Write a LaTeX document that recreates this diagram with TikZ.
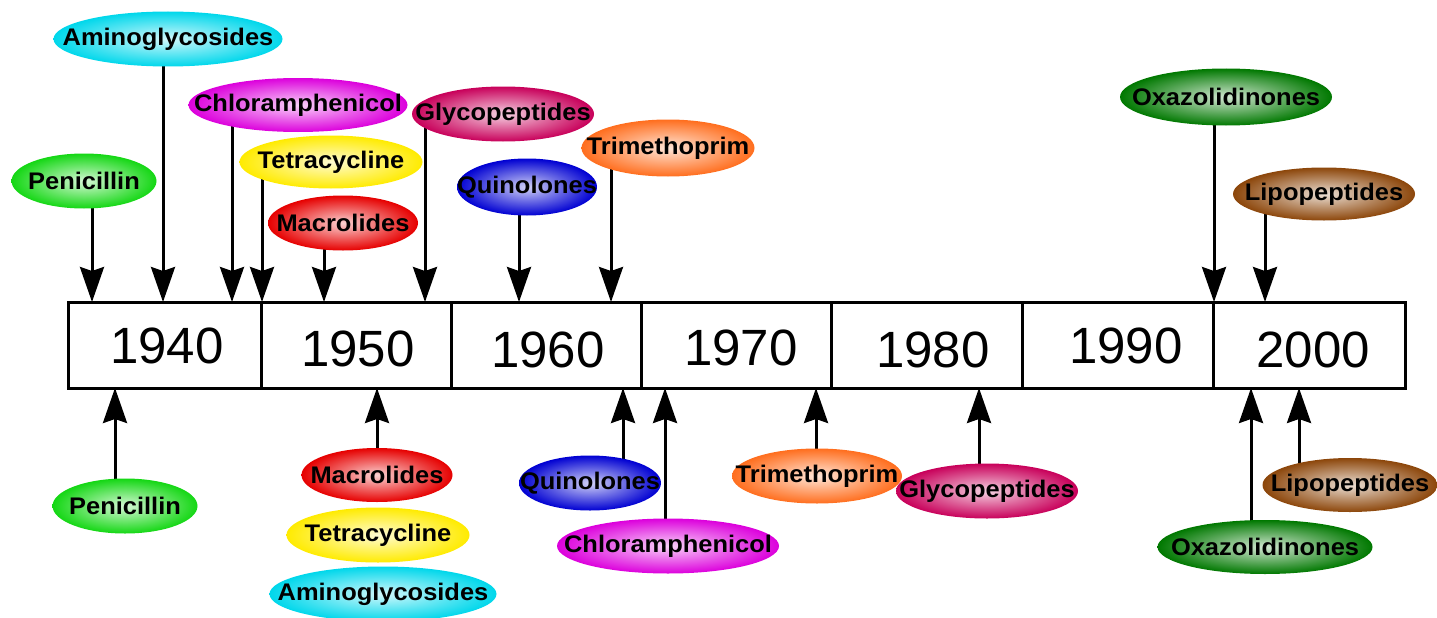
\documentclass[tikz,border=0pt]{standalone}
\usepackage{fontspec}
\usetikzlibrary{shapes.geometric,arrows.meta,backgrounds}
\newfontfamily\labfont[FakeStretch=1.06]{Liberation Sans}
\newfontfamily\yearfont{Liberation Sans}
\definecolor{cCyan}{RGB}{0,215,235}
\definecolor{cMag}{RGB}{220,0,220}
\definecolor{cGreen}{RGB}{20,215,20}
\definecolor{cYel}{RGB}{255,235,0}
\definecolor{cRed}{RGB}{230,0,0}
\definecolor{cPink}{RGB}{200,0,90}
\definecolor{cBlue}{RGB}{0,0,210}
\definecolor{cOra}{RGB}{255,110,30}
\definecolor{cDGreen}{RGB}{0,120,0}
\definecolor{cBrown}{RGB}{140,70,10}
\newcommand\lbl[1]{\makebox[0pt]{#1}}
\tikzset{
  ell/.style={ellipse, inner sep=0pt, outer sep=0pt, shading=radial,
    inner color=#1!18!white, outer color=#1,
    font=\labfont\bfseries\fontsize{24}{27}\selectfont, text=black},
  cell/.style={rectangle, draw=black, line width=3pt, fill=white, minimum height=86pt, inner sep=0pt},
  yr/.style={font=\yearfont\fontsize{51}{56}\selectfont, inner sep=0pt},
  arr/.style={line width=3pt, -{Stealth[length=35pt,width=24pt,inset=4pt]}}
}
\begin{document}
\begin{tikzpicture}[x=1pt,y=-1pt]
\useasboundingbox (0,0) rectangle (1437,618);
% timeline cells
\node[cell, minimum width=193pt] (c1) at (164.5,345) {};
\node[cell, minimum width=190pt] (c2) at (356,345) {};
\node[cell, minimum width=190pt] (c3) at (546,345) {};
\node[cell, minimum width=190pt] (c4) at (736,345) {};
\node[cell, minimum width=191pt] (c5) at (926.5,345) {};
\node[cell, minimum width=191pt] (c6) at (1117.5,345) {};
\node[cell, minimum width=192pt] (c7) at (1309,345) {};
\node[yr] (y1) at (167,346) {1940};
\node[yr] (y2) at (358,349) {1950};
\node[yr] (y3) at (548,350) {1960};
\node[yr] (y4) at (741,348) {1970};
\node[yr] (y5) at (933,350) {1980};
\node[yr] (y6) at (1126,346) {1990};
\node[yr] (y7) at (1313,350) {2000};
% top ellipses
\node[ell=cCyan, minimum width=229pt, minimum height=55pt] (amT) at (168,39) {\lbl{Aminoglycosides}};
\node[ell=cMag, minimum width=219pt, minimum height=54pt] (chT) at (298,105) {\lbl{Chloramphenicol}};
\node[ell=cGreen, minimum width=145pt, minimum height=55pt] (peT) at (84,181) {\lbl{Penicillin}};
\node[ell=cYel, minimum width=183pt, minimum height=53pt] (teT) at (331,162) {\lbl{Tetracycline}};
\node[ell=cRed, minimum width=150pt, minimum height=55pt] (maT) at (343,223) {\lbl{Macrolides}};
\node[ell=cPink, minimum width=182pt, minimum height=55pt] (glT) at (503,114) {\lbl{Glycopeptides}};
\node[ell=cBlue, minimum width=140pt, minimum height=57pt] (quT) at (527,187) {\lbl{Quinolones}};
\node[ell=cOra, minimum width=173pt, minimum height=57pt] (trT) at (668,148) {\lbl{Trimethoprim}};
\node[ell=cDGreen, minimum width=212pt, minimum height=57pt] (oxT) at (1226,97) {\lbl{Oxazolidinones}};
\node[ell=cBrown, minimum width=182pt, minimum height=53pt] (liT) at (1324,194) {\lbl{Lipopeptides}};
% bottom ellipses
\node[ell=cGreen, minimum width=145pt, minimum height=55pt] (peB) at (125,506) {\lbl{Penicillin}};
\node[ell=cRed, minimum width=151pt, minimum height=54pt] (maB) at (377,475) {\lbl{Macrolides}};
\node[ell=cYel, minimum width=183pt, minimum height=55pt] (teB) at (378,535) {\lbl{Tetracycline}};
\node[ell=cCyan, minimum width=227pt, minimum height=55pt] (amB) at (383,594) {\lbl{Aminoglycosides}};
\node[ell=cBlue, minimum width=142pt, minimum height=55pt] (quB) at (590,483) {\lbl{Quinolones}};
\node[ell=cMag, minimum width=222pt, minimum height=55pt] (chB) at (668,546) {\lbl{Chloramphenicol}};
\node[ell=cOra, minimum width=170pt, minimum height=55pt] (trB) at (817,476) {\lbl{Trimethoprim}};
\node[ell=cPink, minimum width=182pt, minimum height=55pt] (glB) at (987,491) {\lbl{Glycopeptides}};
\node[ell=cDGreen, minimum width=215pt, minimum height=54pt] (oxB) at (1265,547) {\lbl{Oxazolidinones}};
\node[ell=cBrown, minimum width=175pt, minimum height=54pt] (liB) at (1350,485) {\lbl{Lipopeptides}};
% arrow end points on the timeline
\coordinate (tPe) at (92,302);
\coordinate (tAm) at (163,302);
\coordinate (tCh) at (232,302);
\coordinate (tTe) at (262,302);
\coordinate (tMa) at (324,302);
\coordinate (tGl) at (425,302);
\coordinate (tQu) at (519,302);
\coordinate (tTr) at (611,302);
\coordinate (tOx) at (1214,302);
\coordinate (tLi) at (1265,302);
\coordinate (bPe) at (115,388);
\coordinate (bMa) at (377,388);
\coordinate (bQu) at (623,388);
\coordinate (bCh) at (665,388);
\coordinate (bTr) at (816,388);
\coordinate (bGl) at (979,388);
\coordinate (bOx) at (1251,388);
\coordinate (bLi) at (1299,388);
\begin{pgfonlayer}{background}
\draw[arr] (tPe |- peT.center) -- (tPe);
\draw[arr] (tAm |- amT.center) -- (tAm);
\draw[arr] (tCh |- chT.center) -- (tCh);
\draw[arr] (tTe |- teT.center) -- (tTe);
\draw[arr] (tMa |- maT.center) -- (tMa);
\draw[arr] (tGl |- glT.center) -- (tGl);
\draw[arr] (tQu |- quT.center) -- (tQu);
\draw[arr] (tTr |- trT.center) -- (tTr);
\draw[arr] (tOx |- oxT.center) -- (tOx);
\draw[arr] (tLi |- liT.center) -- (tLi);
\draw[arr] (bPe |- peB.center) -- (bPe);
\draw[arr] (bMa |- maB.center) -- (bMa);
\draw[arr] (bQu |- quB.center) -- (bQu);
\draw[arr] (bCh |- chB.center) -- (bCh);
\draw[arr] (bTr |- trB.center) -- (bTr);
\draw[arr] (bGl |- glB.center) -- (bGl);
\draw[arr] (bOx |- oxB.center) -- (bOx);
\draw[arr] (bLi |- liB.center) -- (bLi);
\end{pgfonlayer}
\end{tikzpicture}
\end{document}
